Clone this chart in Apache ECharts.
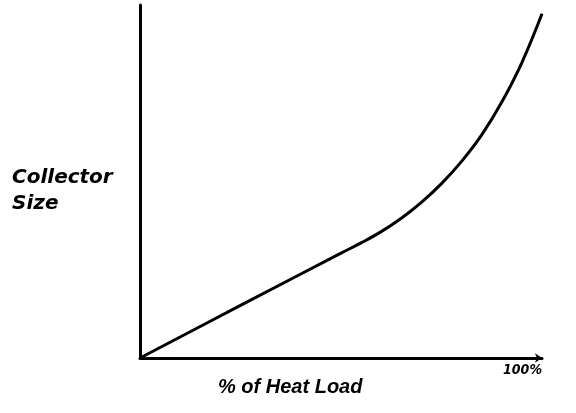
<!DOCTYPE html>
<html><head><meta charset="utf-8">
<script src="https://cdn.jsdelivr.net/npm/echarts@6/dist/echarts.min.js"></script>
<style>html,body{margin:0;padding:0;background:#fff}#c{width:576px;height:413px}</style>
</head><body><div id="c"></div>
<script>
var heatLoad = [0, 25, 50, 55, 60, 65, 70, 75, 80, 85, 90, 95, 100];
var collectorSize = [0, 14.9, 29.7, 32.6, 35.8, 39.6, 44.1, 49.4, 55.7, 63.2, 72.5, 83.7, 97.5];
var xTickLabels = {100: '100%'};
var xTitle = '% of Heat Load';
var yTitle = ['Collector', 'Size'];

var hand = {fontFamily: 'DejaVu Sans', fontStyle: 'italic', fontWeight: 'bold'};
var chart = echarts.init(document.getElementById('c'), null, {renderer: 'canvas'});
chart.setOption({
  animation: false,
  backgroundColor: '#fff',
  grid: {left: 140, right: 34, top: 5, bottom: 55},
  xAxis: {
    type: 'value', min: 0, max: 100,
    axisLine: {show: true, lineStyle: {color: '#000', width: 3}, symbol: ['none', 'arrow'], symbolSize: [7, 7]},
    axisTick: {show: false}, splitLine: {show: false},
    axisLabel: {
      show: true, margin: 5,
      customValues: [100],
      formatter: function (v) { return xTickLabels[v] || ''; },
      fontFamily: 'DejaVu Sans Condensed', fontStyle: 'italic', fontWeight: 'bold', fontSize: 14, color: '#000', align: 'right'
    }
  },
  yAxis: {
    type: 'value', min: 0, max: 100,
    axisLine: {show: true, lineStyle: {color: '#000', width: 3}},
    axisTick: {show: false}, splitLine: {show: false}, axisLabel: {show: false}
  },
  series: [{
    type: 'line', smooth: 0.4, symbol: 'none',
    lineStyle: {color: '#000', width: 3},
    data: heatLoad.map(function (x, i) { return [x, collectorSize[i]]; })
  }],
  graphic: [
    {type: 'text', left: 12, top: 168, style: Object.assign({text: yTitle[0], fontSize: 20, fill: '#000'}, hand)},
    {type: 'text', left: 12, top: 194, style: Object.assign({text: yTitle[1], fontSize: 20, fill: '#000'}, hand)},
    {type: 'text', left: 218, top: 377, style: {text: xTitle, fontSize: 20, fill: '#000', fontFamily: 'Liberation Sans', fontStyle: 'italic', fontWeight: 'bold'}}
  ]
});
</script></body></html>
